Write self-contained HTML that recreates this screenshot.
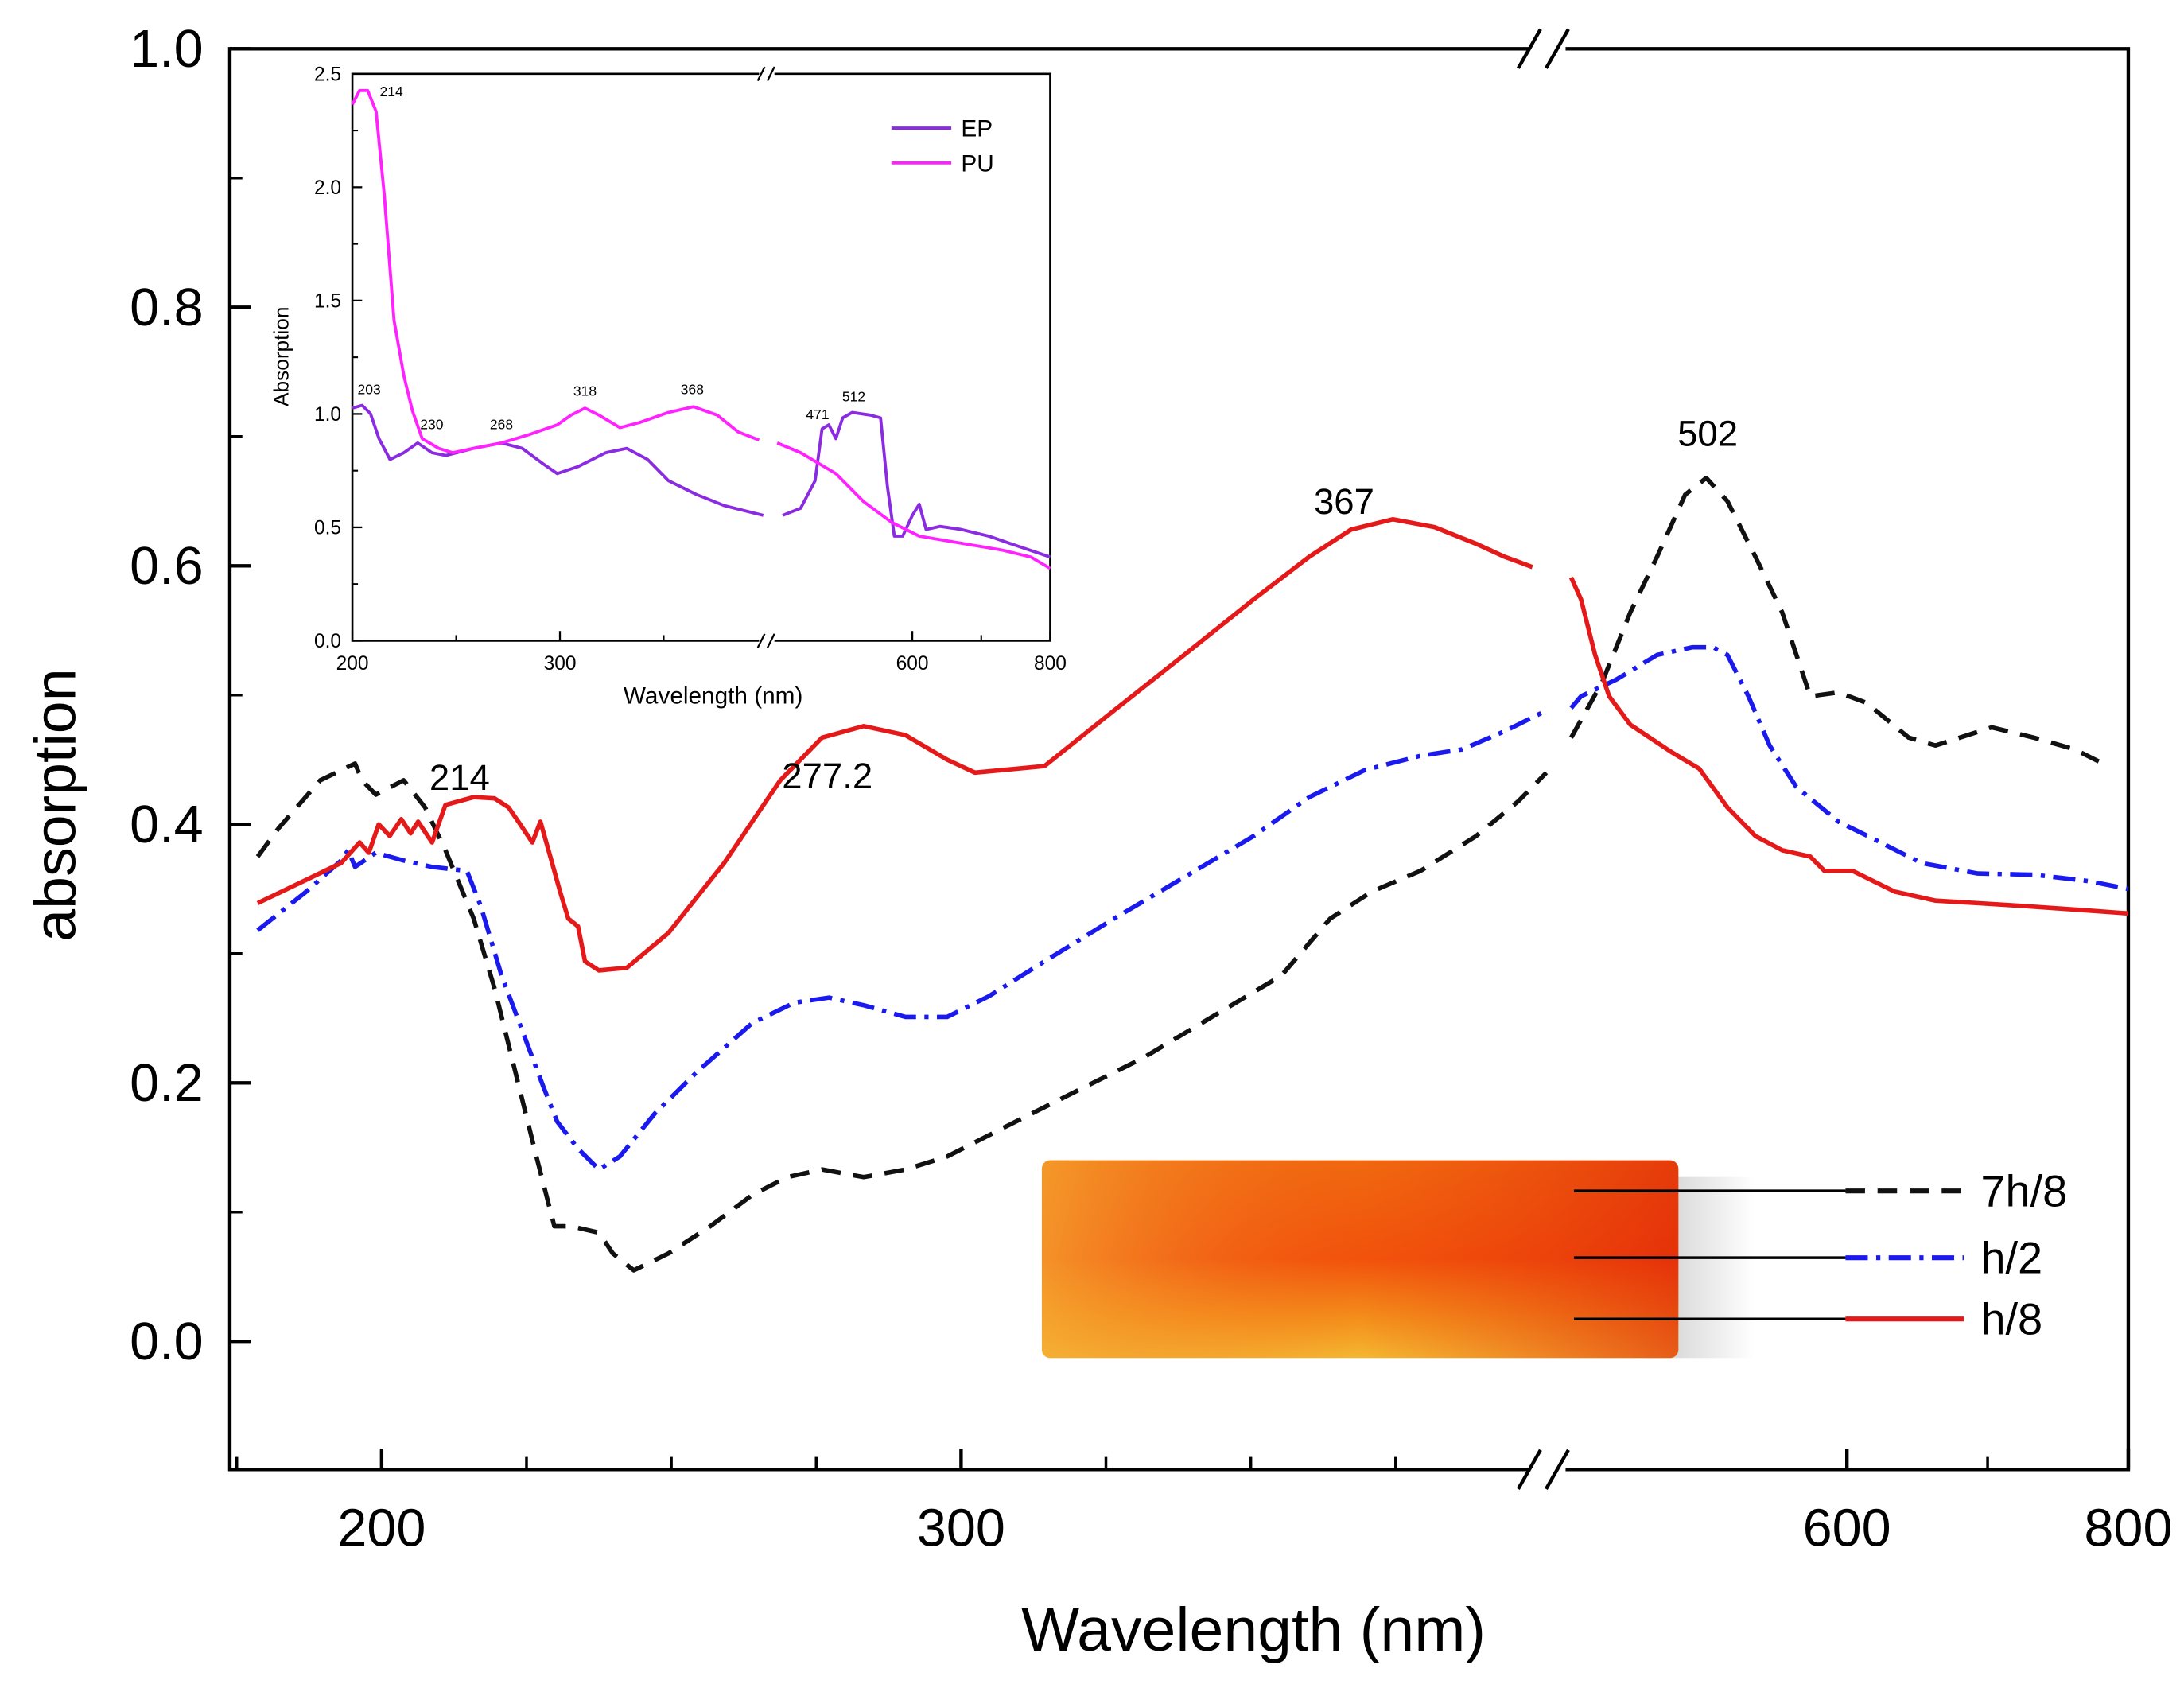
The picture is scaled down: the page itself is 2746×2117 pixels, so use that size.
<!DOCTYPE html>
<html><head><meta charset="utf-8"><style>
html,body{margin:0;padding:0;background:#fff;}
svg{display:block;}
text{font-family:"Liberation Sans",sans-serif;}
</style></head><body>
<svg id="chart" width="2746" height="2117" viewBox="0 0 1568 1209" preserveAspectRatio="none" xmlns="http://www.w3.org/2000/svg">
<defs>
<linearGradient id="gv" x1="0" y1="0" x2="0" y2="1">
<stop offset="0" stop-color="#f07a10"/><stop offset="0.5" stop-color="#f25a0a"/><stop offset="0.8" stop-color="#f5b020"/><stop offset="1" stop-color="#f6ea40"/></linearGradient>
<linearGradient id="gh" x1="0" y1="0" x2="1" y2="0">
<stop offset="0" stop-color="#f5a030" stop-opacity="0.8"/><stop offset="0.5" stop-color="#f04010" stop-opacity="0.3"/><stop offset="1" stop-color="#e02008" stop-opacity="0.7"/></linearGradient>
<linearGradient id="gs" x1="0" y1="0" x2="1" y2="0"><stop offset="0" stop-color="#aaa"/><stop offset="1" stop-color="#fff"/></linearGradient>
</defs>
<g id="photo">
<rect x="1180" y="845" width="80" height="130" fill="url(#gs)" opacity="0.6"/>
<rect x="748" y="833" width="457" height="142" rx="6" fill="url(#gv)"/>
<rect x="748" y="833" width="457" height="142" rx="6" fill="url(#gh)"/>
</g>
<g id="axes"></g>
<g id="series"></g>
<g id="inset"></g>
</svg>
<script>
// ---- main chart data ----
const redLeftNm=[178.6,193,196.2,197.8,199.5,201.4,203.4,205,206.3,208.7,211,215.9,219.5,221.9,223.6,226,227.4,229.1,230.8,232.2,233.9,235.1,237.5,242.3,249.5,259.1,268.8,276,283.2,290.4,297.6,302.4,314.4,326.4,338.5,350.5,360.1,367.3,374.5,381.7,388.9,393.8,398.6];
const redLeftVal=[.339,.370,.386,.378,.400,.391,.404,.393,.402,.386,.415,.421,.420,.413,.402,.386,.402,.375,.348,.327,.321,.294,.287,.289,.316,.370,.434,.467,.476,.469,.450,.440,.445,.488,.531,.574,.607,.628,.636,.630,.617,.607,.599];
const redRightNm=[404,411,421,431,446,475,495,515,535,554,574,584,604,634,663,693,723,762,800];
const redRightVal=[.591,.574,.531,.499,.477,.456,.443,.413,.391,.380,.375,.364,.364,.348,.341,.339,.337,.334,.331];
const blueLeftNm=[178.6,187,193,194.2,195.4,199,203.8,208.7,214.7,217.1,220.7,224.3,227.9,230.3,233.9,237.5,241.1,247.1,254.3,263.9,271.2,277.2,283.2,290.4,297.6,304.8,314.4,326.4,338.5,350.5,360.1,369.7,379.3,386.5,393.8,401];
const blueLeftVal=[.318,.348,.372,.380,.367,.378,.372,.367,.364,.337,.283,.240,.197,.170,.149,.133,.143,.176,.208,.246,.262,.266,.260,.251,.251,.267,.294,.327,.359,.391,.421,.442,.453,.458,.472,.488];
const blueRightNm=[404,411,436,465,490,505,515,530,545,564,594,624,653,693,733,772,800];
const blueRightVal=[.490,.499,.512,.531,.537,.537,.531,.499,.461,.429,.402,.386,.370,.362,.361,.356,.350];
const blackLeftNm=[178.6,182.2,189.4,195.4,196.6,199,203.8,207.5,211,215.9,219.5,223.1,226.7,229.8,232.7,237.5,239.9,243.5,249.5,256.7,263.9,270,276,283.2,290.4,297.6,307.2,319.2,331.3,343.3,355.3,363.7,370.9,379.3,388.9,396.2,401];
const blackLeftVal=[.375,.397,.434,.447,.434,.423,.434,.413,.380,.327,.273,.208,.143,.089,.089,.084,.068,.055,.068,.089,.113,.127,.133,.127,.133,.143,.165,.192,.219,.251,.283,.327,.348,.364,.391,.418,.440];
const blackRightNm=[404,426,446,465,485,500,515,535,554,574,594,614,644,663,703,733,762,782];
const blackRightVal=[.467,.510,.564,.607,.655,.668,.650,.607,.564,.499,.502,.494,.467,.461,.475,.467,.458,.447];
const yTicks=[0.0,0.2,0.4,0.6,0.8,1.0];
const yTickLabels=["0.0","0.2","0.4","0.6","0.8","1.0"];
const xMajor=[200,300,600,800];
const xMajorLabels=["200","300","600","800"];
const xMinor=[175,225,250,275,325,350,375,700];
// ---- inset data ----
const puLeftNm=[200,203.4,207.4,211.4,215.4,220.1,224.8,228.9,233.6,241.6,248.3,258.4,271.8,285.2,298.7,305.4,312.1,318.8,328.9,338.9,352.3,364.4,375.8,385.9,396];
const puLeftVal=[2.365,2.426,2.426,2.334,1.966,1.413,1.167,1.014,.891,.848,.829,.848,.872,.909,.952,.995,1.026,.995,.940,.964,1.007,1.032,.995,.921,.885];
const puRightNm=[404,438,489,529,570,610,671,731,772,800];
const puRightVal=[.872,.829,.737,.614,.522,.461,.430,.399,.369,.319];
const epLeftNm=[200,204.7,208.7,212.8,218.1,224.8,231.5,238.3,245,258.4,271.8,281.9,291.9,298.7,308.7,322.1,332.2,342.3,352.3,365.8,379.2,392.6,398];
const epLeftVal=[1.026,1.038,1.001,.891,.799,.829,.872,.829,.817,.848,.872,.848,.780,.737,.768,.829,.848,.799,.706,.645,.596,.565,.553];
const epRightNm=[412,438,459,469,479,489,499,513,539,554,564,574,586,600,610,620,640,671,711,752,800];
const epRightVal=[.553,.584,.706,.934,.952,.891,.983,1.007,.995,.983,.676,.461,.461,.553,.602,.491,.504,.491,.461,.418,.369];
const insetYTicks=[0,0.5,1.0,1.5,2.0,2.5];
const insetYLabels=["0.0","0.5","1.0","1.5","2.0","2.5"];
const insetXTicks=[200,300,600,800];
const insetXLabels=["200","300","600","800"];

const NS="http://www.w3.org/2000/svg";
const xs=nm=>nm<=402?274+(nm-200)*4.16:1326+(nm-600)*1.01;
const ys=v=>963-v*928;
const xi=nm=>nm<=400?253+(nm-200)*1.49:655+(nm-600)*0.495;
const yi=v=>460-v*162.8;
function mk(tag,attrs,parent,txt){const e=document.createElementNS(NS,tag);for(const k in attrs)e.setAttribute(k,attrs[k]);if(txt!==undefined)e.textContent=txt;parent.appendChild(e);return e;}
function pts(nm,val,fx,fy){return nm.map((n,i)=>fx(n).toFixed(1)+","+fy(val[i]).toFixed(1)).join(" ");}

const axes=document.getElementById('axes');
const series=document.getElementById('series');
const inset=document.getElementById('inset');

// frame
let fr=mk('path',{d:"M1098,35 H165 V1055 H1098 M1124,1055 H1528 V35 H1124",fill:"none",stroke:"#000","stroke-width":2.5},axes);


[35,1055].forEach(y=>{
 const b=mk('path',{d:`M1090,${y+14} L1106,${y-14} M1110,${y+14} L1126,${y-14}`,stroke:"#000","stroke-width":2.5,fill:"none"},axes);
 
 
});
// y ticks
yTicks.forEach((v,i)=>{
 const y=ys(v);
 mk('line',{x1:165,x2:180,y1:y,y2:y,stroke:"#000","stroke-width":2.5},axes);
 const t=mk('text',{x:146,y:y+13,"text-anchor":"end","font-size":38},axes,yTickLabels[i]);
 
 
 if(i<yTicks.length-1){const ym=ys(v+0.1);mk('line',{x1:165,x2:174,y1:ym,y2:ym,stroke:"#000","stroke-width":2},axes);}
});
xMajor.forEach((n,i)=>{
 const x=xs(n);
 mk('line',{x1:x,x2:x,y1:1055,y2:1040,stroke:"#000","stroke-width":2.5},axes);
 const t=mk('text',{x:x,y:1110,"text-anchor":"middle","font-size":38},axes,xMajorLabels[i]);
 
 
});
xMinor.forEach(n=>{const x=xs(n);mk('line',{x1:x,x2:x,y1:1055,y2:1046,stroke:"#000","stroke-width":2},axes);});
let yt=mk('text',{x:0,y:0,transform:"translate(54,578) rotate(-90)","text-anchor":"middle","font-size":42},axes,"absorption");


let xt=mk('text',{x:900,y:1185,"text-anchor":"middle","font-size":44,"font-family":"Liberation Serif, serif"},axes,"Wavelength  (nm)");



// series
function line(nm,val,color,dash,name){
 const p=mk('polyline',{points:pts(nm,val,xs,ys),fill:"none",stroke:color,"stroke-width":3.2,"stroke-linejoin":"round"},series);
 if(dash)p.setAttribute('stroke-dasharray',dash);
 
 
}
line(blackLeftNm,blackLeftVal,"#111","14 9","series-7h8-left");
line(blackRightNm,blackRightVal,"#111","14 9","series-7h8-right");
line(blueLeftNm,blueLeftVal,"#1a1aee","16 6 3 6","series-h2-left");
line(blueRightNm,blueRightVal,"#1a1aee","16 6 3 6","series-h2-right");
line(redLeftNm,redLeftVal,"#e41a1a",null,"series-h8-left");
line(redRightNm,redRightVal,"#e41a1a",null,"series-h8-right");
[["214",330,567,"sans"],["277.2",594,566,"sans"],["367",965,369,"sans"],["502",1226,320,"serif"]].forEach(a=>{
 const t=mk('text',{x:a[1],y:a[2],"text-anchor":"middle","font-size":26,"font-family":a[3]=="serif"?"Liberation Serif, serif":"Liberation Sans, sans-serif"},series,a[0]);
 
 
});
// legend
[["7h/8",855,"#111","14 9"],["h/2",903,"#1a1aee","16 6 3 6"],["h/8",947,"#e41a1a",null]].forEach(a=>{
 const g=mk('g',{},series);
 
 
 mk('line',{x1:1130,x2:1325,y1:a[1],y2:a[1],stroke:"#000","stroke-width":2},g);
 const l=mk('line',{x1:1325,x2:1410,y1:a[1],y2:a[1],stroke:a[2],"stroke-width":3.5},g);
 if(a[3])l.setAttribute('stroke-dasharray',a[3]);
 mk('text',{x:1422,y:a[1]+11,"font-size":32,"font-family":"Liberation Serif, serif"},g,a[0]);
});

// inset
let ifr=mk('path',{d:"M545,53 H253 V460 H545 M556,460 H754 V53 H556",fill:"none",stroke:"#000","stroke-width":1.5},inset);


[53,460].forEach(y=>{mk('path',{d:`M544,${y+5} L549,${y-5} M551,${y+5} L556,${y-5}`,stroke:"#000","stroke-width":1.3,fill:"none"},inset);});
insetYTicks.forEach((v,i)=>{
 const y=yi(v);
 mk('line',{x1:253,x2:260,y1:y,y2:y,stroke:"#000","stroke-width":1.3},inset);
 if(i<insetYTicks.length-1){const ym=yi(v+0.25);mk('line',{x1:253,x2:257,y1:ym,y2:ym,stroke:"#000","stroke-width":1.2},inset);}
 const t=mk('text',{x:245,y:y+5,"text-anchor":"end","font-size":14},inset,insetYLabels[i]);
 
 
});
insetXTicks.forEach((n,i)=>{
 const x=xi(n);
 mk('line',{x1:x,x2:x,y1:460,y2:453,stroke:"#000","stroke-width":1.3},inset);
 const t=mk('text',{x:x,y:481,"text-anchor":"middle","font-size":14},inset,insetXLabels[i]);
 
 
});
[250,350,700].forEach(n=>{const x=xi(n);mk('line',{x1:x,x2:x,y1:460,y2:456,stroke:"#000","stroke-width":1.2},inset);});
let iyt=mk('text',{x:0,y:0,transform:"translate(207,256) rotate(-90)","text-anchor":"middle","font-size":15},inset,"Absorption");


let ixt=mk('text',{x:512,y:505,"text-anchor":"middle","font-size":17},inset,"Wavelength  (nm)");


function iline(nm,val,color,name){
 const p=mk('polyline',{points:pts(nm,val,xi,yi),fill:"none",stroke:color,"stroke-width":2.2,"stroke-linejoin":"round"},inset);
 
 
}
iline(epLeftNm,epLeftVal,"#8a2be2","inset-ep-left");
iline(epRightNm,epRightVal,"#8a2be2","inset-ep-right");
iline(puLeftNm,puLeftVal,"#ff22ff","inset-pu-left");
iline(puRightNm,puRightVal,"#ff22ff","inset-pu-right");
[["214",281,69],["203",265,283],["230",310,308],["268",360,308],["318",420,284],["368",497,283],["471",587,301],["512",613,288]].forEach(a=>{
 const t=mk('text',{x:a[1],y:a[2],"text-anchor":"middle","font-size":10},inset,a[0]);
 
 
});
[["EP",92,"#8a2be2"],["PU",117,"#ff22ff"]].forEach(a=>{
 const g=mk('g',{},inset);
 
 
 mk('line',{x1:640,x2:683,y1:a[1],y2:a[1],stroke:a[2],"stroke-width":2.2},g);
 mk('text',{x:690,y:a[1]+6,"font-size":17},g,a[0]);
});
</script>
</body></html>
